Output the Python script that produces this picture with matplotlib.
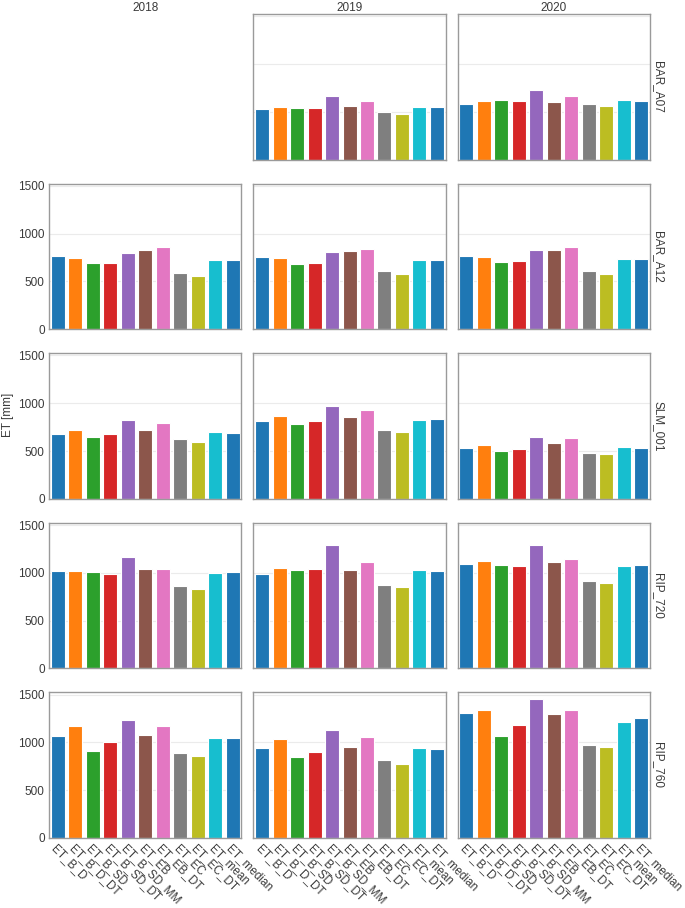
import numpy as np
import matplotlib
matplotlib.use("Agg")
import matplotlib.pyplot as plt

plt.rcParams['font.family'] = ['Liberation Sans', 'DejaVu Sans']

# categories (x axis)
methods = ['ET_B_D', 'ET_B_D_DT', 'ET_B_SD', 'ET_B_SD_DT', 'ET_B_SD_MM', 'ET_EB',
           'ET_EB_DT', 'ET_EC', 'ET_EC_DT', 'ET_mean', 'ET_median']
years = ['2018', '2019', '2020']
sites = ['BAR_A07', 'BAR_A12', 'SLM_001', 'RIP_720', 'RIP_760']

# ET [mm] per site, one list per year (None = no data)
bar_a07_2018 = None
bar_a07_2019 = [531, 552, 542, 535, 667, 563, 615, 497, 479, 549, 549]
bar_a07_2020 = [583, 615, 625, 608, 726, 604, 663, 580, 563, 622, 611]

bar_a12_2018 = [764, 750, 690, 690, 802, 830, 858, 585, 561, 729, 722]
bar_a12_2019 = [754, 747, 681, 688, 803, 821, 842, 607, 579, 726, 726]
bar_a12_2020 = [761, 758, 702, 709, 832, 832, 863, 610, 582, 737, 737]

slm_001_2018 = [673, 715, 648, 673, 823, 715, 792, 624, 599, 694, 687]
slm_001_2019 = [817, 863, 786, 814, 972, 859, 926, 723, 695, 828, 831]
slm_001_2020 = [530, 558, 502, 516, 642, 579, 635, 484, 467, 540, 533]

rip_720_2018 = [1016, 1016, 1006, 992, 1167, 1037, 1044, 862, 834, 995, 1006]
rip_720_2019 = [992, 1048, 1027, 1041, 1296, 1030, 1118, 876, 855, 1030, 1023]
rip_720_2020 = [1093, 1121, 1083, 1072, 1296, 1111, 1146, 915, 894, 1076, 1083]

rip_760_2018 = [1065, 1177, 911, 1009, 1240, 1076, 1177, 894, 858, 1051, 1051]
rip_760_2019 = [939, 1037, 851, 897, 1128, 957, 1055, 813, 774, 946, 932]
rip_760_2020 = [1303, 1338, 1069, 1184, 1451, 1300, 1335, 978, 950, 1216, 1258]

data = [
    [bar_a07_2018, bar_a07_2019, bar_a07_2020],
    [bar_a12_2018, bar_a12_2019, bar_a12_2020],
    [slm_001_2018, slm_001_2019, slm_001_2020],
    [rip_720_2018, rip_720_2019, rip_720_2020],
    [rip_760_2018, rip_760_2019, rip_760_2020],
]

tab10 = plt.get_cmap('tab10').colors
colors = [tab10[i % 10] for i in range(len(methods))]
text_col = '#3a3a3a'
fs = 8.5

fig, axes = plt.subplots(len(sites), len(years), figsize=(6.85, 9.08), dpi=100,
                         sharex=True, sharey=True)
fig.subplots_adjust(left=0.0715, right=0.949, top=0.9846, bottom=0.0771,
                    wspace=0.0625, hspace=0.165)

x = np.arange(len(methods))
for r, site in enumerate(sites):
    for c, year in enumerate(years):
        ax = axes[r, c]
        vals = data[r][c]
        ax.set_axisbelow(True)
        ax.grid(axis='y', color='#ebebeb', linewidth=0.8)
        for s in ax.spines.values():
            s.set_color('#9a9a9a')
            s.set_linewidth(1.0)
        ax.tick_params(length=0, labelsize=fs, labelcolor=text_col, pad=3)
        if vals is not None:
            ax.bar(x, vals, width=0.8, color=colors, edgecolor='white', linewidth=0.8)
        if r == 0:
            ax.set_title(year, fontsize=fs, color=text_col, pad=2)
        if c == len(years) - 1:
            ax.text(1.042, 0.5, site, transform=ax.transAxes, rotation=-90,
                    ha='center', va='center', fontsize=fs, color=text_col)
        if vals is None:
            for s in ax.spines.values():
                s.set_visible(False)
            ax.grid(False)
            ax.tick_params(labelleft=False, labelbottom=False)

axes[0, 0].set_xlim(-0.5, len(methods) - 0.5)
axes[0, 0].set_ylim(0, 1.05 * max(max(v) for row in data for v in row if v is not None))
axes[0, 0].set_yticks([0, 500, 1000, 1500])
axes[0, 0].set_xticks(x)
for ax in axes[-1]:
    ax.set_xticklabels(methods, rotation=-45, ha='left', rotation_mode='anchor')

fig.text(8 / 685, 1 - 415 / 908, 'ET [mm]', rotation=90, ha='center', va='center',
         fontsize=fs, color=text_col)

fig.savefig('out.png', dpi=100)
